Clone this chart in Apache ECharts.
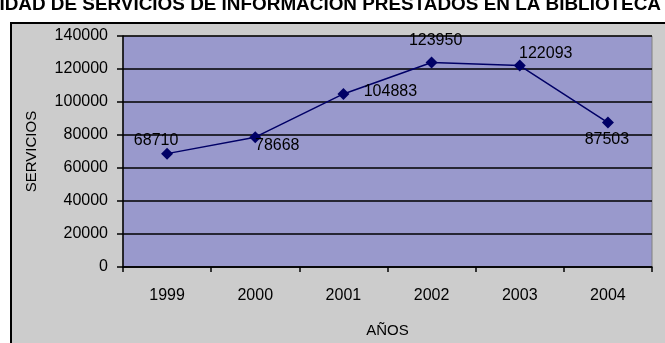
<!DOCTYPE html>
<html>
<head>
<meta charset="utf-8">
<script src="https://cdn.jsdelivr.net/npm/echarts@6/dist/echarts.min.js"></script>
<style>
  html, body { margin: 0; padding: 0; background: #ffffff; }
  #chart { width: 665px; height: 343px; }
</style>
</head>
<body>
<div id="chart"></div>
<script>
// Servicios de información prestados por año
const years = ['1999', '2000', '2001', '2002', '2003', '2004'];
const servicios = [68710, 78668, 104883, 123950, 122093, 87503];
const yTicks = [0, 20000, 40000, 60000, 80000, 100000, 120000, 140000];

const titleText = 'CANTIDAD DE SERVICIOS DE INFORMACION PRESTADOS EN LA BIBLIOTECA';

// label placement around each marker (dx, dy from the point)
const labelOffsets = [[-11, -13], [22, 8], [47, -2], [4, -22], [26, -12], [-1, 17]];

const FONT = 'Arial, "Liberation Sans", sans-serif';
const chart = echarts.init(document.getElementById('chart'), null, { renderer: 'canvas' });

chart.setOption({
  backgroundColor: '#ffffff',
  animation: false,
  graphic: [
    {
      type: 'rect',
      z: -10,
      shape: { x: 11, y: 23, width: 700, height: 400 },
      style: { fill: '#cccccc', stroke: '#000000', lineWidth: 2 }
    },
    {
      type: 'text',
      z: 10,
      style: {
        x: 661, y: -5,
        text: titleText,
        align: 'right', verticalAlign: 'top',
        font: 'bold 18.9px ' + FONT,
        fill: '#000000'
      }
    }
  ],
  grid: {
    left: 123, top: 36, width: 529, height: 235,
    show: true,
    backgroundColor: '#9999cc',
    borderColor: '#808080',
    borderWidth: 1
  },
  xAxis: {
    type: 'category',
    data: years,
    boundaryGap: true,
    name: 'AÑOS',
    nameLocation: 'middle',
    nameGap: 56,
    nameTextStyle: { fontFamily: FONT, fontSize: 15, color: '#000' },
    axisLine: { lineStyle: { color: '#000', width: 1.5 } },
    axisTick: { show: true, inside: false, length: 5, alignWithLabel: false, lineStyle: { color: '#000', width: 1.5 } },
    axisLabel: { fontFamily: FONT, fontSize: 16, color: '#000', margin: 21 },
    splitLine: { show: false }
  },
  yAxis: {
    type: 'value',
    min: yTicks[0],
    max: yTicks[yTicks.length - 1],
    interval: yTicks[1] - yTicks[0],
    name: 'SERVICIOS',
    nameLocation: 'middle',
    nameGap: 84,
    nameTextStyle: { fontFamily: FONT, fontSize: 15, color: '#000' },
    axisLine: { show: true, lineStyle: { color: '#000', width: 1.5 } },
    axisTick: { show: true, inside: false, length: 6, lineStyle: { color: '#000', width: 1.5 } },
    axisLabel: { fontFamily: FONT, fontSize: 16, color: '#000', margin: 15, formatter: v => String(v) },
    splitLine: { show: true, lineStyle: { color: '#000', width: 1.5 } }
  },
  series: [{
    type: 'line',
    data: servicios.map((v, i) => ({
      value: v,
      label: { offset: labelOffsets[i] }
    })),
    symbol: 'diamond',
    symbolSize: 12,
    lineStyle: { color: '#000066', width: 1.5 },
    itemStyle: { color: '#000066' },
    label: {
      show: true,
      position: 'inside',
      fontFamily: FONT,
      fontSize: 16,
      color: '#000'
    },
    z: 5
  }]
});
</script>
</body>
</html>
